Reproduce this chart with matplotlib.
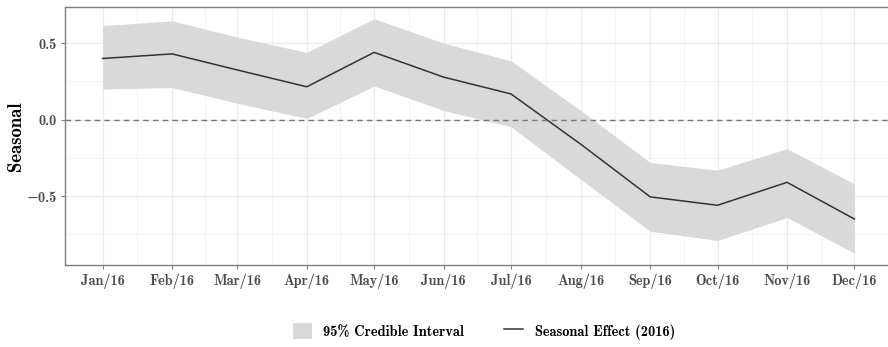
import datetime as dt

import matplotlib
matplotlib.use("Agg")
import matplotlib.dates as mdates
import matplotlib.pyplot as plt
import matplotlib.ticker as mticker
from matplotlib.lines import Line2D
from matplotlib.patches import Patch

plt.rcParams["font.family"] = ["cmb10", "DejaVu Serif"]
plt.rcParams["axes.unicode_minus"] = False

# monthly seasonal effect for 2016 with 95% credible bounds
months = [dt.date(2016, m, 1) for m in range(1, 13)]
month_labels = ["Jan/16", "Feb/16", "Mar/16", "Apr/16", "May/16", "Jun/16",
                "Jul/16", "Aug/16", "Sep/16", "Oct/16", "Nov/16", "Dec/16"]
seasonal = [0.40, 0.43, 0.325, 0.215, 0.44, 0.278, 0.168, -0.16, -0.505, -0.56, -0.41, -0.65]
lower = [0.20, 0.21, 0.107, 0.008, 0.22, 0.06, -0.047, -0.39, -0.73, -0.79, -0.64, -0.874]
upper = [0.615, 0.646, 0.54, 0.44, 0.66, 0.50, 0.385, 0.06, -0.28, -0.33, -0.19, -0.42]

x = mdates.date2num(months)

fig = plt.figure(figsize=(8.88, 3.47), dpi=100)
ax = fig.add_axes([0.0732, 0.2363, 0.9313, 0.7435])

ax.fill_between(x, lower, upper, color="#d9d9d9", linewidth=0, zorder=2)
ax.plot(x, seasonal, color="#333333", linewidth=1.1, zorder=3)
ax.axhline(0, color="#777777", linestyle=(0, (4, 3)), linewidth=1.0, zorder=4)

# ggplot-style 5% expansion on both axes
span = x[-1] - x[0]
ax.set_xlim(x[0] - 0.05 * span, x[-1] + 0.05 * span)
lo, hi = min(lower), max(upper)
ax.set_ylim(lo - 0.05 * (hi - lo), hi + 0.05 * (hi - lo))

ax.set_xticks(x)
ax.set_xticklabels(month_labels)
ax.set_xticks((x[:-1] + x[1:]) / 2, minor=True)
ax.yaxis.set_major_locator(mticker.FixedLocator([-0.5, 0.0, 0.5]))
ax.yaxis.set_major_formatter(
    mticker.FuncFormatter(lambda v, _: f"{v:.1f}".replace("-", "\u2212")))
ax.yaxis.set_minor_locator(mticker.FixedLocator([-0.75, -0.25, 0.25]))

ax.grid(which="major", color="#ebebeb", linewidth=0.9, zorder=0)
ax.grid(which="minor", color="#f3f3f3", linewidth=0.6, zorder=0)
ax.set_axisbelow(True)

for side in ax.spines.values():
    side.set_color("#7f7f7f")
    side.set_linewidth(1.0)
ax.tick_params(which="major", length=3, color="#7f7f7f", labelsize=10.3,
               labelcolor="#4d4d4d", pad=3)
ax.tick_params(which="minor", length=0)

ax.set_ylabel("Seasonal", fontsize=13.5, va="center")
ax.yaxis.set_label_coords(-0.059, 0.5)

handles = [Patch(facecolor="#d9d9d9", edgecolor="none"),
           Line2D([], [], color="#333333", linewidth=1.1)]
fig.legend(handles, ["95% Credible Interval", "Seasonal Effect (2016)"],
           loc="center", bbox_to_anchor=(0.545, 0.045), ncol=2, frameon=False,
           fontsize=10.4, handlelength=1.3, handleheight=1.3, columnspacing=2.8,
           handletextpad=0.8)

fig.savefig("out.png", dpi=100)
